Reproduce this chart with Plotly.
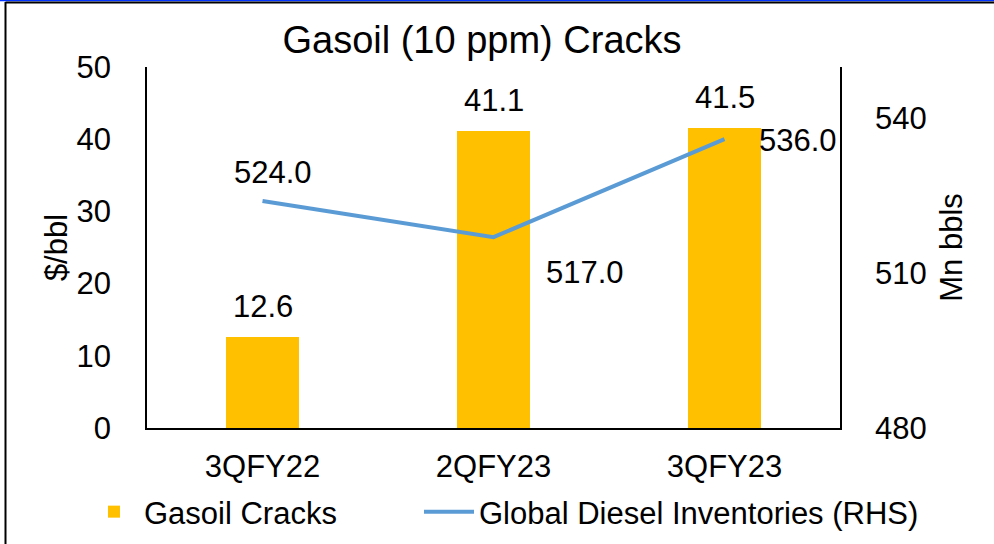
import plotly.graph_objects as go

categories = ["3QFY22", "2QFY23", "3QFY23"]
gasoil_cracks = [12.6, 41.1, 41.5]
diesel_inventories = [524.0, 517.0, 536.0]
left_ticks = [0, 10, 20, 30, 40, 50]
right_ticks = [480, 510, 540]

W, H = 994, 544
L, R, T, B = 147, 154, 67, 116
pw, ph = W - L - R, H - T - B
FONT = "Liberation Sans, Arial, sans-serif"
FS = 31

def px_x(px):
    return (px - L) / pw

def px_y(py):
    return (H - B - py) / ph

fig = go.Figure()
fig.add_trace(go.Bar(
    x=categories, y=gasoil_cracks, name="Gasoil Cracks",
    marker=dict(color="#FFC000", line=dict(width=0)), width=0.316,
    yaxis="y", legend="legend",
))
fig.add_trace(go.Scatter(
    x=categories, y=diesel_inventories, name="Global Diesel Inventories (RHS)",
    mode="lines", line=dict(color="#5B9BD5", width=4), yaxis="y2", legend="legend2",
))

# bar value labels
for c, v in zip(categories, gasoil_cracks):
    fig.add_annotation(x=c, y=v, xref="x", yref="y", text=f"{v:.1f}",
                       showarrow=False, yshift=31, font=dict(size=FS, color="black", family=FONT))
# line value labels
line_shifts = [(10, 29), (91, -35), (73, -1)]
for c, v, (dx, dy) in zip(categories, diesel_inventories, line_shifts):
    fig.add_annotation(x=c, y=v, xref="x", yref="y2", text=f"{v:.1f}",
                       showarrow=False, xshift=dx, yshift=dy,
                       font=dict(size=FS, color="black", family=FONT))

shapes = [
    dict(type="line", xref="paper", yref="paper", x0=px_x(0), x1=px_x(W), y0=px_y(0.5), y1=px_y(0.5),
         line=dict(color="#0033FF", width=1.5)),
    dict(type="line", xref="paper", yref="paper", x0=px_x(5.5), x1=px_x(W), y0=px_y(2.5), y1=px_y(2.5),
         line=dict(color="black", width=2)),
    dict(type="line", xref="paper", yref="paper", x0=px_x(5.5), x1=px_x(5.5), y0=px_y(2), y1=px_y(H),
         line=dict(color="black", width=2)),
]

legend_common = dict(orientation="h", yref="container", yanchor="middle", y=1 - 512 / H,
                     xanchor="left", font=dict(size=FS, family=FONT), itemwidth=50,
                     bgcolor="rgba(0,0,0,0)")

fig.update_layout(
    width=W, height=H, autosize=False,
    margin=dict(l=L, r=R, t=T, b=B),
    paper_bgcolor="white", plot_bgcolor="white",
    font=dict(family=FONT, size=FS, color="black"),
    title=dict(text="Gasoil (10 ppm) Cracks", x=482 / W, xanchor="center",
               y=1 - 40 / H, yanchor="middle", font=dict(size=38, family=FONT)),
    showlegend=True,
    legend=dict(x=px_x(84), **legend_common),
    legend2=dict(x=px_x(419), **legend_common),
    xaxis=dict(showline=True, linecolor="black", linewidth=1.5, ticks="", showgrid=False,
               tickfont=dict(size=FS), ticklabelstandoff=10, automargin=False),
    yaxis=dict(range=[0, 50], tickvals=left_ticks, showgrid=False, showline=True,
               linecolor="black", linewidth=1.5, ticks="", zeroline=False, automargin=False,
               tickfont=dict(size=FS), ticklabelstandoff=28,
               title=dict(text="$/bbl", font=dict(size=FS), standoff=0)),
    yaxis2=dict(range=[480, 550], tickvals=right_ticks, overlaying="y", side="right",
                showgrid=False, showline=True, linecolor="black", linewidth=1.5, ticks="",
                zeroline=False, automargin=False, tickfont=dict(size=FS), ticklabelstandoff=27,
                title=dict(text="Mn bbls", font=dict(size=FS), standoff=15)),
    shapes=shapes,
    bargap=0,
)

fig.write_html("out.html", config={"displayModeBar": False},
               post_script="document.body.style.margin='0';document.body.style.overflow='hidden';")
